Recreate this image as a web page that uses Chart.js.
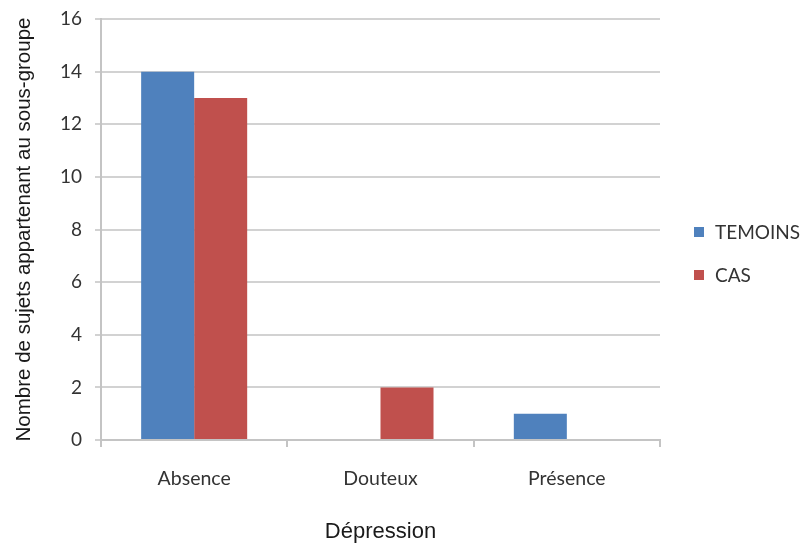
<!DOCTYPE html>
<html>
<head>
<meta charset="utf-8">
<script src="https://cdn.jsdelivr.net/npm/chart.js@4/dist/chart.umd.min.js"></script>
<style>
html,body{margin:0;padding:0;background:#fff;}
#wrap{width:800px;height:545px;position:relative;}
</style>
</head>
<body>
<div id="wrap"><canvas id="c" width="800" height="545"></canvas></div>
<script>
const categories = ["Absence", "Douteux", "Présence"];
const temoins = [14, 0, 1];
const cas = [13, 2, 0];
const seriesNames = ["TEMOINS", "CAS"];
const seriesColors = ["#4F81BD", "#C0504D"];
const yTitle = "Nombre de sujets appartenant au sous-groupe";
const xTitle = "Dépression";

const legendPlugin = {
  id: 'sideLegend',
  afterDraw(chart) {
    const ctx = chart.ctx;
    ctx.save();
    ctx.font = '19px Lato';
    ctx.textBaseline = 'middle';
    ctx.textAlign = 'left';
    chart.data.datasets.forEach((ds, i) => {
      const cy = 232 + i * 43;
      ctx.fillStyle = ds.backgroundColor;
      ctx.fillRect(694, cy - 5, 10, 10);
      ctx.fillStyle = '#333333';
      ctx.fillText(ds.label, 715, cy + 1);
    });
    ctx.restore();
  }
};

new Chart(document.getElementById('c'), {
  type: 'bar',
  data: {
    labels: categories,
    datasets: [
      { label: seriesNames[0], data: temoins, backgroundColor: seriesColors[0] },
      { label: seriesNames[1], data: cas, backgroundColor: seriesColors[1] }
    ]
  },
  options: {
    responsive: false,
    animation: false,
    devicePixelRatio: 1,
    layout: { padding: { left: 0, right: 140, top: 19, bottom: 0 } },
    datasets: { bar: { categoryPercentage: 0.569, barPercentage: 1.0 } },
    plugins: {
      legend: { display: false },
      tooltip: { enabled: false }
    },
    scales: {
      x: {
        afterFit(s) { s.height = 105; s.paddingLeft = 0; s.paddingRight = 0; },
        grid: { display: true, drawOnChartArea: false, drawTicks: true, tickLength: 7, color: '#c4c4c4', lineWidth: 2, offset: true },
        border: { display: true, color: '#c4c4c4', width: 2 },
        ticks: { color: '#333333', font: { family: 'Lato', size: 19.5 }, padding: 20 },
        title: { display: true, text: xTitle, color: '#1a1a1a', font: { family: 'Liberation Sans', size: 22 }, padding: { top: 0, bottom: 0 } }
      },
      y: {
        min: 0, max: 16,
        afterFit(s) { s.width = 101; s.paddingTop = 0; s.paddingBottom = 0; },
        grid: { color: '#d2d2d2', lineWidth: 2, drawTicks: true, tickLength: 6 },
        border: { display: true, color: '#c4c4c4', width: 2 },
        ticks: { stepSize: 2, color: '#333333', font: { family: 'Lato', size: 19 }, padding: 13 },
        title: { display: true, text: yTitle, color: '#1a1a1a', font: { family: 'Liberation Sans', size: 20.5 }, padding: { top: 12, bottom: 0 } }
      }
    }
  },
  plugins: [legendPlugin]
});
</script>
</body>
</html>
